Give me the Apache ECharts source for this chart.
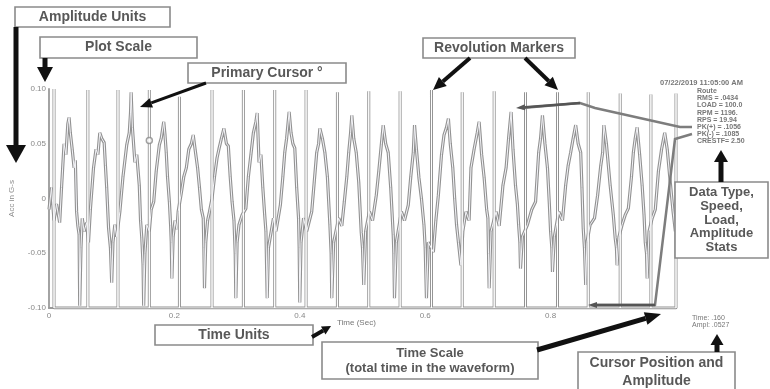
<!DOCTYPE html>
<html>
<head>
<meta charset="utf-8">
<script src="https://cdn.jsdelivr.net/npm/echarts@6/dist/echarts.min.js"></script>
<style>html,body{margin:0;padding:0;background:#fff;}#chart{width:770px;height:389px;}</style>
</head>
<body>
<div id="chart"></div>
<script>
// ---- data ----
const yTicks = [-0.10, -0.05, 0, 0.05, 0.10];
const xTicks = [0, 0.2, 0.4, 0.6, 0.8];
// revolution (tach) marker times (s) and their top amplitudes
const revTimes = [0.008, 0.062, 0.110, 0.160, 0.208, 0.260, 0.310, 0.360, 0.410, 0.460, 0.510, 0.560, 0.610, 0.659, 0.710, 0.760, 0.811, 0.860, 0.911, 0.960, 1.000];
const revTops  = [0.100, 0.099, 0.099, 0.099, 0.093, 0.099, 0.099, 0.099, 0.099, 0.097, 0.098, 0.098, 0.099, 0.097, 0.098, 0.097, 0.097, 0.097, 0.096, 0.095, 0.096];
// waveform [time (s), amplitude]
const waveform = [
[0.000,-0.010],[0.004,0.010],[0.008,-0.020],[0.012,-0.005],[0.017,-0.022],[0.020,0.010],[0.024,0.050],[0.027,0.040],[0.030,0.068],[0.032,0.074],[0.034,0.060],[0.037,0.045],[0.040,0.028],[0.042,0.035],[0.044,-0.012],[0.046,-0.025],[0.048,-0.033],[0.049,-0.098],[0.051,-0.045],[0.053,-0.018],[0.056,-0.030],[0.060,-0.022],[0.063,-0.040],
[0.066,-0.010],[0.071,0.028],[0.075,0.045],[0.078,0.040],[0.081,0.060],[0.084,0.055],[0.088,0.051],[0.090,0.030],[0.092,0.010],[0.095,-0.027],[0.098,-0.045],[0.100,-0.077],[0.102,-0.040],[0.105,-0.024],[0.108,-0.035],[0.113,-0.012],
[0.118,0.020],[0.124,0.049],[0.128,0.060],[0.130,0.078],[0.131,0.097],[0.133,0.065],[0.137,0.033],[0.140,0.040],[0.144,0.012],[0.146,-0.020],[0.148,-0.036],[0.150,-0.060],[0.151,-0.098],[0.153,-0.050],[0.156,-0.024],[0.160,-0.030],[0.163,-0.010],[0.167,-0.003],
[0.171,0.025],[0.176,0.049],[0.179,0.055],[0.183,0.070],[0.185,0.058],[0.187,0.042],[0.189,0.020],[0.192,-0.003],[0.194,-0.025],[0.195,-0.040],[0.196,-0.073],[0.198,-0.035],[0.201,-0.020],[0.204,-0.028],[0.206,-0.012],
[0.211,0.005],[0.215,0.020],[0.219,0.028],[0.223,0.045],[0.227,0.050],[0.230,0.058],[0.233,0.045],[0.237,0.028],[0.240,0.010],[0.243,-0.010],[0.246,-0.018],[0.247,-0.045],[0.248,-0.082],[0.250,-0.040],[0.253,-0.020],[0.256,-0.012],
[0.260,0.000],[0.264,0.020],[0.268,0.037],[0.271,0.045],[0.275,0.055],[0.279,0.064],[0.283,0.050],[0.286,0.048],[0.289,0.020],[0.292,-0.003],[0.295,-0.020],[0.297,-0.050],[0.298,-0.091],[0.300,-0.040],[0.303,-0.024],[0.308,-0.015],[0.314,-0.009],
[0.318,0.020],[0.322,0.040],[0.326,0.060],[0.330,0.070],[0.332,0.078],[0.335,0.033],[0.338,0.040],[0.341,0.010],[0.344,-0.015],[0.346,-0.030],[0.348,-0.091],[0.350,-0.045],[0.358,-0.018],[0.362,-0.030],[0.369,-0.006],
[0.373,0.020],[0.376,0.042],[0.379,0.055],[0.383,0.079],[0.386,0.060],[0.389,0.050],[0.392,0.046],[0.395,0.010],[0.398,-0.018],[0.399,-0.045],[0.400,-0.095],[0.402,-0.040],[0.406,-0.018],[0.411,-0.030],[0.419,-0.012],
[0.423,0.015],[0.427,0.042],[0.430,0.050],[0.432,0.064],[0.436,0.055],[0.440,0.042],[0.444,0.020],[0.448,-0.024],[0.450,-0.050],[0.451,-0.091],[0.454,-0.040],[0.462,-0.018],[0.467,-0.025],[0.471,-0.003],
[0.475,0.020],[0.478,0.042],[0.481,0.060],[0.483,0.076],[0.486,0.055],[0.490,0.042],[0.494,0.015],[0.498,-0.031],[0.500,-0.045],[0.502,-0.079],[0.505,-0.030],[0.511,-0.012],[0.516,-0.020],[0.522,0.003],
[0.526,0.025],[0.530,0.049],[0.533,0.067],[0.537,0.050],[0.541,0.042],[0.545,0.010],[0.549,-0.033],[0.550,-0.050],[0.551,-0.091],[0.554,-0.040],[0.562,-0.012],[0.567,-0.020],[0.573,-0.006],
[0.577,0.020],[0.581,0.042],[0.583,0.067],[0.586,0.045],[0.590,0.019],[0.594,0.000],[0.598,-0.024],[0.600,-0.045],[0.602,-0.091],[0.605,-0.040],[0.613,-0.049],[0.617,-0.020],[0.621,0.003],
[0.626,0.040],[0.630,0.058],[0.634,0.065],[0.637,0.073],[0.640,0.050],[0.644,0.028],[0.647,0.000],[0.650,-0.024],[0.653,-0.040],[0.657,-0.061],[0.660,-0.030],[0.665,-0.012],[0.670,-0.020],
[0.673,0.028],[0.678,0.045],[0.683,0.060],[0.686,0.070],[0.690,0.040],[0.694,0.019],[0.698,-0.010],[0.700,-0.018],[0.701,-0.050],[0.702,-0.082],[0.705,-0.030],[0.713,-0.012],[0.718,-0.025],[0.724,0.012],
[0.729,0.028],[0.733,0.055],[0.737,0.079],[0.740,0.045],[0.744,0.012],[0.747,-0.005],[0.749,-0.024],[0.751,-0.040],[0.752,-0.064],[0.755,-0.035],[0.763,-0.024],[0.770,-0.010],[0.776,-0.003],
[0.781,0.042],[0.784,0.055],[0.787,0.076],[0.791,0.050],[0.795,0.028],[0.798,-0.005],[0.800,-0.030],[0.802,-0.045],[0.803,-0.067],[0.806,-0.035],[0.813,-0.012],[0.819,-0.020],[0.824,0.012],
[0.828,0.030],[0.832,0.042],[0.836,0.055],[0.840,0.067],[0.844,0.050],[0.848,0.042],[0.850,0.010],[0.852,-0.027],[0.854,-0.045],[0.856,-0.079],[0.858,-0.040],[0.863,-0.024],[0.870,-0.018],[0.875,0.003],
[0.880,0.030],[0.883,0.042],[0.885,0.067],[0.889,0.050],[0.895,0.012],[0.900,-0.015],[0.903,-0.036],[0.905,-0.045],[0.906,-0.061],[0.909,-0.035],[0.914,-0.024],[0.919,-0.015],[0.924,-0.009],
[0.929,0.020],[0.932,0.042],[0.935,0.055],[0.938,0.065],[0.942,0.040],[0.946,0.012],[0.949,-0.015],[0.951,-0.040],[0.953,-0.050],[0.954,-0.073],[0.957,-0.030],[0.962,-0.018],[0.967,-0.010],
[0.972,0.025],[0.977,0.045],[0.982,0.060],[0.986,0.045],[0.990,0.020],[0.995,-0.010],[0.999,-0.030]
];
const cursorPoint = [[0.160, 0.053]];
const infoLines = ["Route", "RMS = .0434", "LOAD = 100.0", "RPM = 1196.", "RPS = 19.94", "PK(+) = .1056", "PK(-) = .1085", "CRESTF= 2.50"];
const infoDate = "07/22/2019 11:05:00 AM";
const cursorLines = ["Time: .160", "Ampl: .0527"];
const yName = "Acc in G-s";
const xName = "Time (Sec)";

// ---- build ----
const yMin = yTicks[0], yMax = yTicks[yTicks.length - 1];
const markerData = [];
revTimes.forEach((t, i) => { markerData.push([t, yMin], [t, revTops[i]], [t, yMin]); });

const GRAY = '#929292';
const TXT = '#585858';
const FONT = 'Liberation Sans, Arial, sans-serif';

function box(x, y, w, h, lines, fs, lh) {
  const els = [{ type: 'rect', shape: { x: x, y: y, width: w, height: h },
    style: { fill: '#fff', stroke: '#8a8a8a', lineWidth: 1.6 }, z: 10 }];
  lh = lh || fs + 3;
  const startY = y + h / 2 - (lines.length - 1) * lh / 2;
  lines.forEach((s, i) => {
    els.push({ type: 'text', z: 11, style: { text: s, x: x + w / 2, y: startY + i * lh,
      fill: TXT, font: 'bold ' + fs + 'px ' + FONT, align: 'center', verticalAlign: 'middle',
      textAlign: 'center', textVerticalAlign: 'middle' } });
  });
  return els;
}
function arrow(x1, y1, x2, y2, lw, hl, hw, color) {
  const dx = x2 - x1, dy = y2 - y1, L = Math.hypot(dx, dy);
  const ux = dx / L, uy = dy / L, px = -uy, py = ux;
  const bx = x2 - ux * hl, by = y2 - uy * hl;
  return [
    { type: 'line', z: 12, shape: { x1: x1, y1: y1, x2: bx, y2: by }, style: { stroke: color, lineWidth: lw } },
    { type: 'polygon', z: 12, shape: { points: [[x2, y2], [bx + px * hw / 2, by + py * hw / 2], [bx - px * hw / 2, by - py * hw / 2]] }, style: { fill: color } }
  ];
}
function leader(points, color) {
  const n = points.length;
  const a = points[n - 2], b = points[n - 1];
  return [{ type: 'polyline', z: 9, shape: { points: points.slice(0, n - 1).concat([[b[0] + 6, b[1]]]) }, style: { stroke: color, lineWidth: 2.5, fill: null } }]
    .concat(arrow(a[0], a[1], b[0], b[1], 2.5, 9, 6, '#555'));
}
function smallText(s, x, y, fs, align, bold) {
  return { type: 'text', z: 11, style: { text: s, x: x, y: y, fill: '#777', font: (bold ? 'bold ' : '') + fs + 'px ' + FONT,
    align: align || 'left', verticalAlign: 'middle', textAlign: align || 'left', textVerticalAlign: 'middle' } };
}

let graphics = [];
graphics = graphics.concat(box(15, 7, 155, 20, ['Amplitude Units'], 14));
graphics = graphics.concat(box(40, 37, 157, 21, ['Plot Scale'], 14));
graphics = graphics.concat(box(188, 63, 158, 20, ['Primary Cursor \u00b0'], 14));
graphics = graphics.concat(box(423, 38, 152, 20, ['Revolution Markers'], 14));
graphics = graphics.concat(box(675, 182, 93, 76, ['Data Type,', 'Speed,', 'Load,', 'Amplitude', 'Stats'], 13, 13.8));
graphics = graphics.concat(box(155, 325, 158, 20, ['Time Units'], 14));
graphics = graphics.concat(box(322, 342, 216, 37, ['Time Scale', '(total time in the waveform)'], 13, 15));
graphics = graphics.concat(box(578, 352, 157, 40, ['Cursor Position and', 'Amplitude'], 14, 18));

graphics = graphics.concat(arrow(16, 27, 16, 163, 5, 18, 20, '#111'));
graphics = graphics.concat(arrow(45, 58, 45, 82, 5, 15, 16, '#111'));
graphics = graphics.concat(arrow(206, 83, 140, 107, 3, 12, 10, '#111'));
graphics = graphics.concat(arrow(470, 58, 433, 90, 4, 13, 12, '#111'));
graphics = graphics.concat(arrow(525, 58, 558, 90, 4, 13, 12, '#111'));
graphics = graphics.concat(arrow(721, 182, 721, 150, 5, 12, 14, '#111'));
graphics = graphics.concat(arrow(312, 337, 331, 326, 4, 9, 9, '#111'));
graphics = graphics.concat(arrow(537, 350, 661, 314, 5, 16, 13, '#111'));
graphics = graphics.concat(arrow(717, 352, 717, 334, 5, 11, 13, '#111'));

graphics = graphics.concat(leader([[692, 127], [680, 127], [595, 108], [580, 103], [516, 108]], '#7d7d7d'));
graphics = graphics.concat(leader([[692, 134], [675, 139], [655, 305], [588, 305]], '#7d7d7d'));

graphics.push(smallText(infoDate, 660, 83, 7.5, 'left', true));
infoLines.forEach((s, i) => graphics.push(smallText(s, 697, 91 + i * 7.2, 7, 'left', true)));
cursorLines.forEach((s, i) => graphics.push(smallText(s, 692, 318 + i * 7.5, 7)));
graphics.push(smallText(xName, 337, 323, 8));

const chart = echarts.init(document.getElementById('chart'));
chart.setOption({
  backgroundColor: '#fff',
  animation: false,
  grid: { left: 47, right: 94, top: 89, bottom: 81 },
  xAxis: {
    type: 'value', min: 0, max: 1, interval: 0.2,
    axisLine: { show: true, onZero: false, lineStyle: { color: '#9a9a9a', width: 2.2 } },
    axisTick: { show: false }, splitLine: { show: false },
    axisLabel: { color: '#888', fontSize: 8, margin: 4, fontFamily: FONT,
      formatter: v => (Math.abs(v - 1) < 1e-9 ? '' : (v === 0 ? '0' : v.toFixed(1))) }
  },
  yAxis: {
    type: 'value', min: yMin, max: yMax, interval: 0.05,
    name: yName, nameLocation: 'middle', nameGap: 33, nameRotate: 90,
    nameTextStyle: { color: '#8a8a8a', fontSize: 8, fontFamily: FONT },
    axisLine: { show: true, lineStyle: { color: '#9a9a9a', width: 1.8 } },
    axisTick: { show: false }, splitLine: { show: false },
    axisLabel: { color: '#888', fontSize: 8, margin: 3, fontFamily: FONT,
      formatter: v => (Math.abs(v) < 1e-9 ? '0' : v.toFixed(2)) }
  },
  series: [
    { type: 'line', data: markerData, symbol: 'none', lineStyle: { color: GRAY, width: 3 }, z: 2 },
    { type: 'line', data: waveform, symbol: 'none', lineStyle: { color: GRAY, width: 3.2 }, z: 2 },
    { type: 'line', data: markerData, symbol: 'none', lineStyle: { color: '#fff', width: 1 }, z: 3 },
    { type: 'line', data: waveform, symbol: 'none', lineStyle: { color: '#f4f4f8', width: 1 }, z: 3 },
    { type: 'scatter', data: cursorPoint, symbol: 'circle', symbolSize: 6,
      itemStyle: { color: '#fff', borderColor: '#8a8a8a', borderWidth: 1.5 }, z: 4 }
  ],
  graphic: { elements: graphics }
});
</script>
</body>
</html>
